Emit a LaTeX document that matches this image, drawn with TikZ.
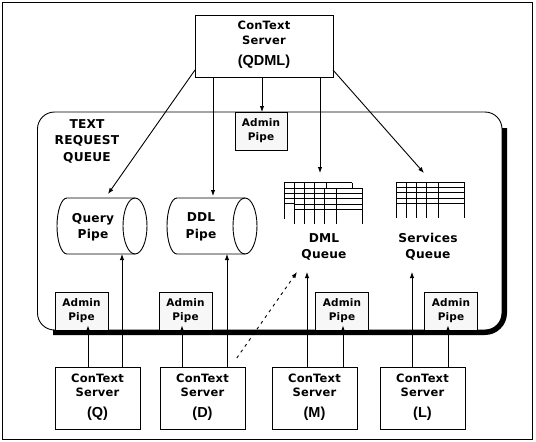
\documentclass[tikz,border=0pt]{standalone}
\usepackage{fontspec}
\setmainfont{DejaVu Sans}
\newfontfamily\dvsp[LetterSpace=1.5]{DejaVu Sans}
\newfontfamily\lsans{Liberation Sans}
\usetikzlibrary{arrows.meta}
\newcommand\fsrv{\dvsp\bfseries\fontsize{11.5}{14.5}\selectfont}
\newcommand\fadm{\dvsp\bfseries\fontsize{10.5}{14}\selectfont}
\newcommand\flab{\dvsp\bfseries\fontsize{12.2}{16.5}\selectfont}
\newcommand\fpar{\lsans\bfseries\fontsize{14.5}{16}\selectfont}
\newcommand\qtab[2]{%
  \begin{scope}[shift={(#1,#2)}]
    \fill[white] (0,0) rectangle (68,36);
    \foreach \r in {0,5.5,10.5,16,21} \draw (0,\r) -- (68,\r);
    \foreach \c in {0,10,20,30,42,68} \draw (\c,0) -- (\c,36);
  \end{scope}}
\begin{document}
\begin{tikzpicture}[x=1pt,y=-1pt,line width=0.9pt,
  arr/.style={-{Latex[length=6pt,width=4.5pt]}},
  dsh/.style={dash pattern=on 3pt off 4pt},
  srvbox/.style={draw,minimum width=85pt,minimum height=62pt,inner sep=0pt,outer sep=0pt},
  admbox/.style={draw,fill=gray!6,minimum width=53pt,minimum height=38pt,inner sep=0pt,outer sep=0pt,font=\fadm,align=center},
  srvtxt/.style={font=\fsrv,align=center,inner sep=0pt},
  partxt/.style={font=\fpar,inner sep=0pt},
  labtxt/.style={font=\flab,align=center,inner sep=0pt},
  area/.style={inner sep=0pt,outer sep=0pt}]
\useasboundingbox (0,0) rectangle (536,442);
\draw (2.5,2) rectangle (532.5,439);

% container
\node[draw,rounded corners=17pt,minimum width=464.5pt,minimum height=218pt,area] (trq) at (269.75,221) {};
\node[labtxt] (trqlab) at (87,141) {TEXT\\REQUEST\\QUEUE};

% top server
\node[srvbox,minimum width=138pt] (qdml) at (264,46) {};
\node[srvtxt] (qdmlt) at (264,32.75) {ConText\\Server};
\node[partxt] (qdmlp) at (264,62) {(QDML)};

% admin pipes
\node[admbox,minimum width=52pt] (admtop) at (261,131) {Admin\\Pipe};
\node[admbox] (adq) at (81.5,311) {Admin\\Pipe};
\node[admbox] (add) at (185.5,311) {Admin\\Pipe};
\node[admbox] (adm) at (342,311) {Admin\\Pipe};
\node[admbox] (adl) at (451,311) {Admin\\Pipe};

% thick shadow edge
\draw[line width=5pt,rounded corners=19.5pt] (504.5,128) -- (504.5,332.5) -- (53,332.5);

% pipes (cylinders)
\node[area,minimum width=90pt,minimum height=56pt] (qpipe) at (102,226) {};
\draw (135,198) -- (67,198) arc[start angle=270,end angle=90,x radius=10,y radius=28] -- (135,254);
\draw (135,226) ellipse[x radius=12,y radius=28];
\node[labtxt] (qpipet) at (93,227) {Query\\Pipe};

\node[area,minimum width=90pt,minimum height=56pt] (dpipe) at (212,226) {};
\draw (245,198) -- (177,198) arc[start angle=270,end angle=90,x radius=10,y radius=28] -- (245,254);
\draw (245,226) ellipse[x radius=12,y radius=28];
\node[labtxt] (dpipet) at (201,227) {DDL\\Pipe};

% queues
\node[area,minimum width=78pt,minimum height=99pt] (dmlq) at (323,222.5) {};
\qtab{284}{182.5}
\qtab{294}{188}
\node[labtxt] (dmlqt) at (324,247) {DML\\Queue};

\node[area,minimum width=68pt,minimum height=99pt] (svcq) at (430,222.5) {};
\qtab{396}{182}
\node[labtxt] (svcqt) at (428,247) {Services\\Queue};

% bottom servers
\node[srvbox] (srvq) at (97.5,398) {};
\node[srvtxt] at (97.5,385.5) {ConText\\Server};
\node[partxt] at (97.5,414) {(Q)};
\node[srvbox] (srvd) at (202.5,398) {};
\node[srvtxt] at (202.5,385.5) {ConText\\Server};
\node[partxt] at (202.5,414) {(D)};
\node[srvbox] (srvm) at (314.5,398) {};
\node[srvtxt] at (314.5,385.5) {ConText\\Server};
\node[partxt] at (314.5,414) {(M)};
\node[srvbox] (srvl) at (422.5,398) {};
\node[srvtxt] at (422.5,385.5) {ConText\\Server};
\node[partxt] at (422.5,414) {(L)};

% connectors from top server
\draw[arr] ([yshift=-24pt]qdml.west) -- ([xshift=6pt,yshift=4pt]qpipe.north);
\draw[arr,shorten >=2pt] ([xshift=-51pt]qdml.south) -- ([xshift=-51pt]qdml.south |- dpipe.north);
\draw[arr] ([xshift=-2pt]qdml.south) -- ([xshift=-2pt]qdml.south |- admtop.north);
\draw[arr] ([xshift=56pt]qdml.south) -- ([xshift=56pt]qdml.south |- dmlq.north);
\draw[arr] ([yshift=-24pt]qdml.east) -- ([xshift=-6pt]svcq.north);

% connectors from bottom servers
\draw[arr,shorten >=-4.5pt] ([xshift=-9.5pt]srvq.north) -- ([xshift=-9.5pt]srvq.north |- adq.south);
\draw[arr] ([xshift=24.5pt]srvq.north) -- ([xshift=24.5pt]srvq.north |- qpipe.south);
\draw[arr,shorten >=-4.5pt] ([xshift=-20.5pt]srvd.north) -- ([xshift=-20.5pt]srvd.north |- add.south);
\draw[arr] ([xshift=24.5pt]srvd.north) -- ([xshift=24.5pt]srvd.north |- dpipe.south);
\draw[arr,dsh,shorten <=11pt] ([xshift=28pt]srvd.north) -- ([xshift=-26pt]dmlq.south);
\draw[arr] ([xshift=-7.5pt]srvm.north) -- ([xshift=-7.5pt]srvm.north |- dmlq.south);
\draw[arr,shorten >=-4.5pt] ([xshift=28.5pt]srvm.north) -- ([xshift=28.5pt]srvm.north |- adm.south);
\draw[arr] ([xshift=-10.5pt]srvl.north) -- ([xshift=-10.5pt]srvl.north |- svcq.south);
\draw[arr,shorten >=-4.5pt] ([xshift=25.5pt]srvl.north) -- ([xshift=25.5pt]srvl.north |- adl.south);
\end{tikzpicture}
\end{document}
